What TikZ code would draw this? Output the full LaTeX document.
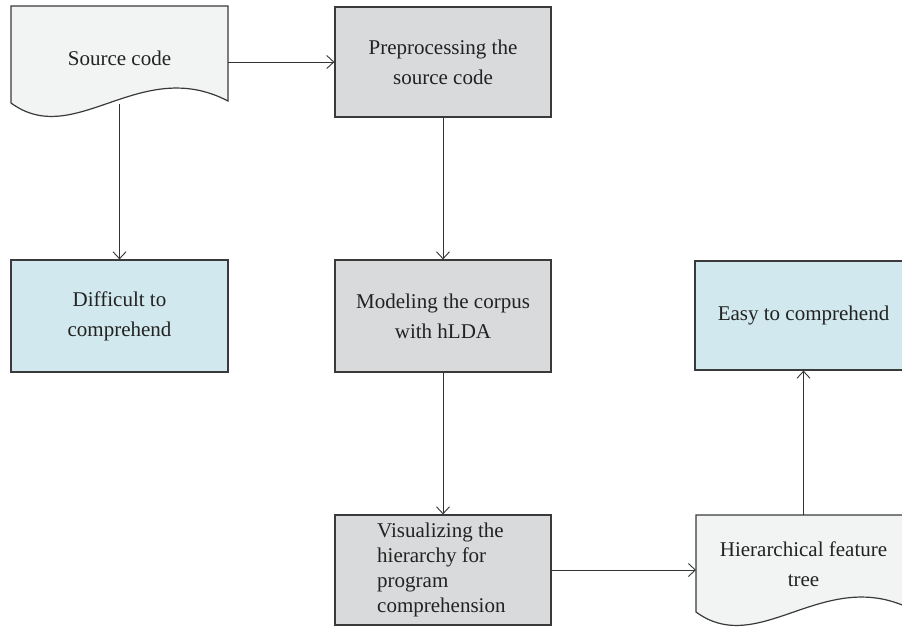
\documentclass[tikz,border=0pt]{standalone}
\usepackage{fontspec}
\setmainfont{Liberation Serif}
\usetikzlibrary{arrows.meta}
\definecolor{edgecol}{HTML}{3A3A3A}
\definecolor{linecol}{HTML}{333333}
\definecolor{docfill}{HTML}{F2F3F3}
\definecolor{grayfill}{HTML}{D9DADB}
\definecolor{bluefill}{HTML}{D0E8EE}
\definecolor{textcol}{HTML}{222222}
\tikzset{
  boxbase/.style={draw=edgecol, line width=1.2pt, inner sep=0pt, align=center,
    text=textcol, font=\fontsize{21}{30}\selectfont},
  graybox/.style={boxbase, fill=grayfill, minimum width=216pt, minimum height=110pt},
  bluebox/.style={boxbase, fill=bluefill, minimum width=217pt},
  docshape/.style={draw=edgecol, line width=1.2pt, fill=docfill},
  doctext/.style={align=center, text=textcol, font=\fontsize{21}{30}\selectfont, inner sep=0pt},
  conn/.style={draw=linecol, line width=0.9pt, -{Straight Barb[length=7pt,width=13pt,line width=0.9pt]}}
}
\begin{document}
\begin{tikzpicture}[x=1pt,y=-1pt]
\useasboundingbox (0,0) rectangle (902,627);
\clip (0,0) rectangle (902,627);
% documents
\path[docshape] (11,6) -- (228,6) -- (228,101)
  .. controls (140,55) and (75,150) .. (11,103) -- cycle;
\path[docshape] (696,515) -- (913,515) -- (913,610)
  .. controls (825,564) and (760,659) .. (696,612) -- cycle;
\node[doctext] (src) at (119.5,58) {Source code};
\node[doctext] (hft) at (803.5,564) {Hierarchical feature\\tree};
\coordinate (srcr) at (228,62);
\coordinate (srcb) at (119.5,104);
\coordinate (hftl) at (696,570);
\coordinate (hftt) at (803.5,515);
% boxes
\node[graybox] (pre) at (443,62) {Preprocessing the\\source code};
\node[bluebox, minimum height=112pt] (dif) at (119.5,316) {Difficult to\\comprehend};
\node[graybox, minimum height=112pt] (mod) at (443,316) {Modeling the corpus\\with hLDA};
\node[bluebox, minimum height=109pt] (easy) at (803.5,315.5) {Easy to comprehend};
\node[graybox] (vis) at (443,570) {};
\node[anchor=west, align=left, inner sep=0pt, text=textcol,
  font=\fontsize{21}{25}\selectfont] (vistext) at (377,570)
  {Visualizing the\\hierarchy for\\program\\comprehension};
% connectors
\draw[conn] (srcr) -- (pre.west);
\draw[conn] (srcb) -- (dif.north);
\draw[conn] (pre.south) -- (mod.north);
\draw[conn] (mod.south) -- (vis.north);
\draw[conn] (vis.east) -- (hftl);
\draw[conn] (hftt) -- (easy.south);
\end{tikzpicture}
\end{document}
